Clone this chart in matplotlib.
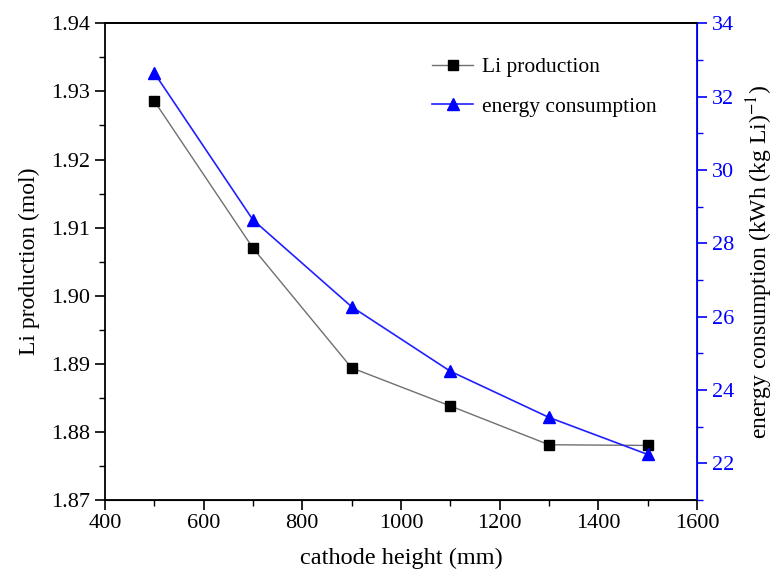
import matplotlib
matplotlib.use('Agg')
from matplotlib import pyplot as plt
from matplotlib.ticker import MultipleLocator, FormatStrFormatter

# data
cathode_height = [500, 700, 900, 1100, 1300, 1500]
li_production = [1.9286, 1.9070, 1.8894, 1.8838, 1.8781, 1.8780]
energy_consumption = [32.65, 28.64, 26.27, 24.51, 23.25, 22.24]

plt.rcParams['font.family'] = ['Liberation Serif', 'DejaVu Serif']
plt.rcParams['mathtext.fontset'] = 'stix'
plt.rcParams['font.size'] = 16

fig = plt.figure(figsize=(7.77, 5.70), dpi=100)
ax = fig.add_axes([0.135, 0.123, 0.762, 0.836])
ax2 = ax.twinx()

l1, = ax.plot(cathode_height, li_production, color='#707070', lw=1.0,
              marker='s', ms=7, mfc='black', mec='black', label='Li production')
l2, = ax2.plot(cathode_height, energy_consumption, color='#2020ff', lw=1.2,
               marker='^', ms=9, mfc='#0000ff', mec='#0000ff',
               label='energy consumption')

ax.set_xlim(400, 1600)
ax.set_ylim(1.87, 1.94)
ax2.set_ylim(21, 34)

ax.xaxis.set_major_locator(MultipleLocator(200))
ax.xaxis.set_minor_locator(MultipleLocator(100))
ax.yaxis.set_major_locator(MultipleLocator(0.01))
ax.yaxis.set_minor_locator(MultipleLocator(0.005))
ax.yaxis.set_major_formatter(FormatStrFormatter('%.2f'))
ax2.yaxis.set_major_locator(MultipleLocator(2))
ax2.yaxis.set_minor_locator(MultipleLocator(1))

ax.tick_params(which='major', direction='out', length=7, width=1.2, labelsize=16)
ax.tick_params(which='minor', direction='out', length=4, width=1.0)
ax2.tick_params(which='major', direction='out', length=7, width=1.2,
                colors='#0000ff', labelsize=16)
ax2.tick_params(which='minor', direction='out', length=4, width=1.0, colors='#0000ff')

for sp in ['left', 'bottom', 'top']:
    ax.spines[sp].set_linewidth(1.3)
ax2.spines['right'].set_color('#0000ff')
ax2.spines['right'].set_linewidth(1.3)
ax2.spines['left'].set_visible(False)
ax2.spines['top'].set_linewidth(1.3)

ax.set_xlabel('cathode height (mm)', fontsize=17.5, labelpad=10)
ax.set_ylabel('Li production (mol)', fontsize=17, labelpad=8)
ax2.set_ylabel(r'energy consumption (kWh (kg Li)$^{-1}$)', fontsize=17, labelpad=8)

ax2.legend(handles=[l1, l2], loc='upper left', bbox_to_anchor=(0.52, 0.97),
           frameon=False, fontsize=15.5, handlelength=1.9, handletextpad=0.4,
           labelspacing=0.9)

fig.savefig('out.png', dpi=100)
